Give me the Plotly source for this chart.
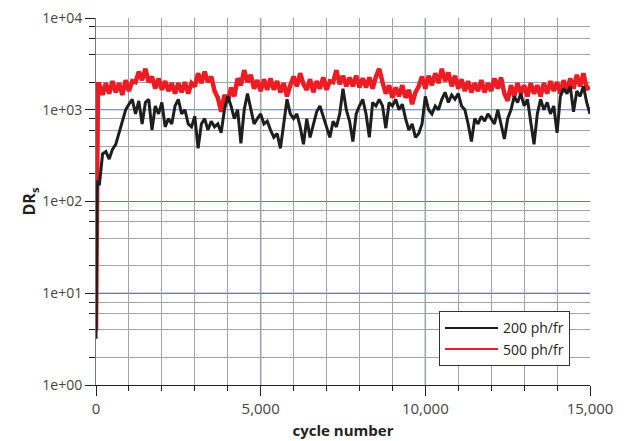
import plotly.graph_objects as go

cycles = [0, 30, 60] + list(range(100, 15001, 100))

dr_200 = [3.2, 140, 170,
    150, 330, 350, 290, 370, 420, 560, 800, 1000, 1150,
    1300, 900, 1250, 700, 1200, 1300, 600, 1100, 900, 1200,
    650, 800, 700, 1100, 1300, 900, 1000, 700, 650, 850,
    380, 700, 800, 600, 750, 650, 700, 560, 1000, 1400,
    1100, 800, 1000, 430, 1000, 1500, 1000, 700, 800, 900,
    700, 750, 600, 500, 550, 380, 700, 1300, 900, 800,
    900, 650, 420, 800, 500, 700, 950, 1100, 850, 650,
    500, 750, 650, 900, 1700, 1000, 750, 450, 900, 1100,
    1300, 900, 500, 1200, 1100, 1300, 1100, 630, 1200, 1100,
    1300, 1000, 1150, 800, 600, 700, 500, 550, 700, 1400,
    1000, 900, 1100, 1000, 1300, 1550, 1200, 1450, 1300, 1500,
    1100, 1000, 700, 450, 800, 700, 850, 750, 900, 800,
    700, 1000, 700, 480, 800, 1000, 1400, 1200, 1500, 1100,
    1300, 700, 420, 900, 1300, 1000, 1200, 900, 1100, 560,
    1400, 1700, 1500, 1800, 950, 1600, 1400, 1800, 1200, 900]

dr_500 = [3.9, 1200, 1900,
    1900, 1450, 1950, 1500, 2050, 1550, 1950, 1450, 2100, 1600,
    2050, 2000, 2600, 2100, 2800, 2000, 2300, 1700, 2200, 1650,
    2050, 1600, 1950, 1500, 1950, 1550, 2000, 1500, 1950, 1800,
    2500, 1950, 2600, 2000, 2300, 1600, 1350, 950, 1450, 1200,
    1750, 1400, 2200, 1850, 2700, 2000, 2400, 1700, 2100, 1600,
    2150, 1650, 2200, 1650, 2050, 1550, 1950, 1400, 1850, 2300,
    1800, 2500, 1900, 1650, 2150, 1550, 2050, 1700, 2250, 1650,
    2050, 2000, 2700, 1900, 2350, 1800, 2250, 1800, 2350, 1750,
    2200, 1750, 2250, 1700, 2300, 2800, 2000, 1500, 1850, 1350,
    1750, 1400, 1850, 1350, 1650, 1150, 1550, 1800, 2300, 1700,
    2350, 1850, 2500, 1950, 2800, 2050, 2550, 1800, 2350, 1700,
    2150, 1600, 2050, 1550, 1950, 1600, 2100, 1550, 1950, 1600,
    2200, 1700, 2250, 1500, 1250, 1850, 1400, 1950, 1500, 1850,
    1400, 1950, 1500, 1850, 1400, 1950, 1500, 2050, 1600, 2000,
    1500, 2100, 1600, 2200, 1700, 2400, 1800, 2500, 1700, 1750]

series_names = ["200 ph/fr", "500 ph/fr"]
series_colors = ["#1e1e1e", "#ec1c24"]

x_tick_vals = [0, 5000, 10000, 15000]
x_tick_text = ["0", "5,000", "10,000", "15,000"]
y_tick_vals = [1, 10, 100, 1000, 10000]
y_tick_text = ["1e+00", "1e+01", "1e+02", "1e+03", "1e+04"]
y_minor_vals = [m * d for d in (1, 10, 100, 1000) for m in (2, 4, 6, 8)]

x_blue_grid = [5000, 10000]
y_blue_grid = [100, 1000]
y_navy_grid = [10]

FONT = "Open Sans"
GRAY = "#a3a3a3"
BLUE = "#5a76c6"
LIGHTBLUE = "#7f95d6"
NAVY = "#34508c"

fig = go.Figure()
fig.add_trace(go.Scatter(x=cycles, y=dr_500, mode="lines", name=series_names[1],
                         showlegend=False,
                         line=dict(color=series_colors[1], width=4.5)))
fig.add_trace(go.Scatter(x=cycles, y=dr_200, mode="lines", name=series_names[0],
                         showlegend=False,
                         line=dict(color=series_colors[0], width=3)))
# legend entries with thin sample lines
for nm, col in zip(series_names, series_colors):
    fig.add_trace(go.Scatter(x=[None], y=[None], mode="lines", name=nm,
                             line=dict(color=col, width=2)))

# coloured major grid lines (drawn under the data)
for xv in x_blue_grid:
    fig.add_shape(type="line", xref="x", yref="paper", x0=xv, x1=xv, y0=0, y1=1,
                  line=dict(color=LIGHTBLUE, width=1.5), layer="below")
for yv in y_blue_grid:
    fig.add_shape(type="line", xref="paper", yref="y", x0=0, x1=1,
                  y0=yv, y1=yv,
                  line=dict(color=BLUE, width=1.2), layer="below")
for yv in y_navy_grid:
    fig.add_shape(type="line", xref="paper", yref="y", x0=0, x1=1,
                  y0=yv, y1=yv,
                  line=dict(color=NAVY, width=1.2), layer="below")

fig.update_layout(
    width=629, height=433,
    margin=dict(l=88, r=47, t=10, b=56),
    paper_bgcolor="white", plot_bgcolor="white",
    font=dict(family=FONT, size=15, color="#444"),
    showlegend=True,
    legend=dict(x=0.9595, y=0.051, xanchor="right", yanchor="bottom",
                bgcolor="white", bordercolor="#333", borderwidth=1,
                traceorder="normal", font=dict(size=14, color="#222"),
                itemwidth=53, entrywidth=76, tracegroupgap=0),
    xaxis=dict(range=[0, 15000], tickmode="array", tickvals=x_tick_vals,
               ticktext=x_tick_text, ticks="outside", ticklen=10,
               tickcolor="#222", showgrid=False, zeroline=False, automargin=False,
               showline=True, linecolor="#222", linewidth=1,
               ticklabeloverflow="allow",
               title=dict(text="<b>cycle number</b>", font=dict(size=15, color="#222"),
                          standoff=8),
               minor=dict(dtick=1000, tick0=0, ticks="outside", ticklen=5,
                          tickcolor="#222", showgrid=True, gridcolor=GRAY, gridwidth=1)),
    yaxis=dict(type="log", range=[0, 4], tickmode="array", tickvals=y_tick_vals,
               ticktext=y_tick_text, ticks="outside", ticklen=10, tickcolor="#222",
               tickfont=dict(size=14),
               showgrid=False, zeroline=False, showline=True, linecolor="#777",
               linewidth=1, automargin=False, ticklabeloverflow="allow",
               title=dict(text="<b>DR<sub>s</sub></b>", font=dict(size=16, color="#222"),
                          standoff=2),
               minor=dict(tickmode="array", tickvals=y_minor_vals, ticks="outside",
                          ticklen=6, tickcolor="#222", showgrid=True,
                          gridcolor=GRAY, gridwidth=1)),
)

fig.write_html("out.html")
